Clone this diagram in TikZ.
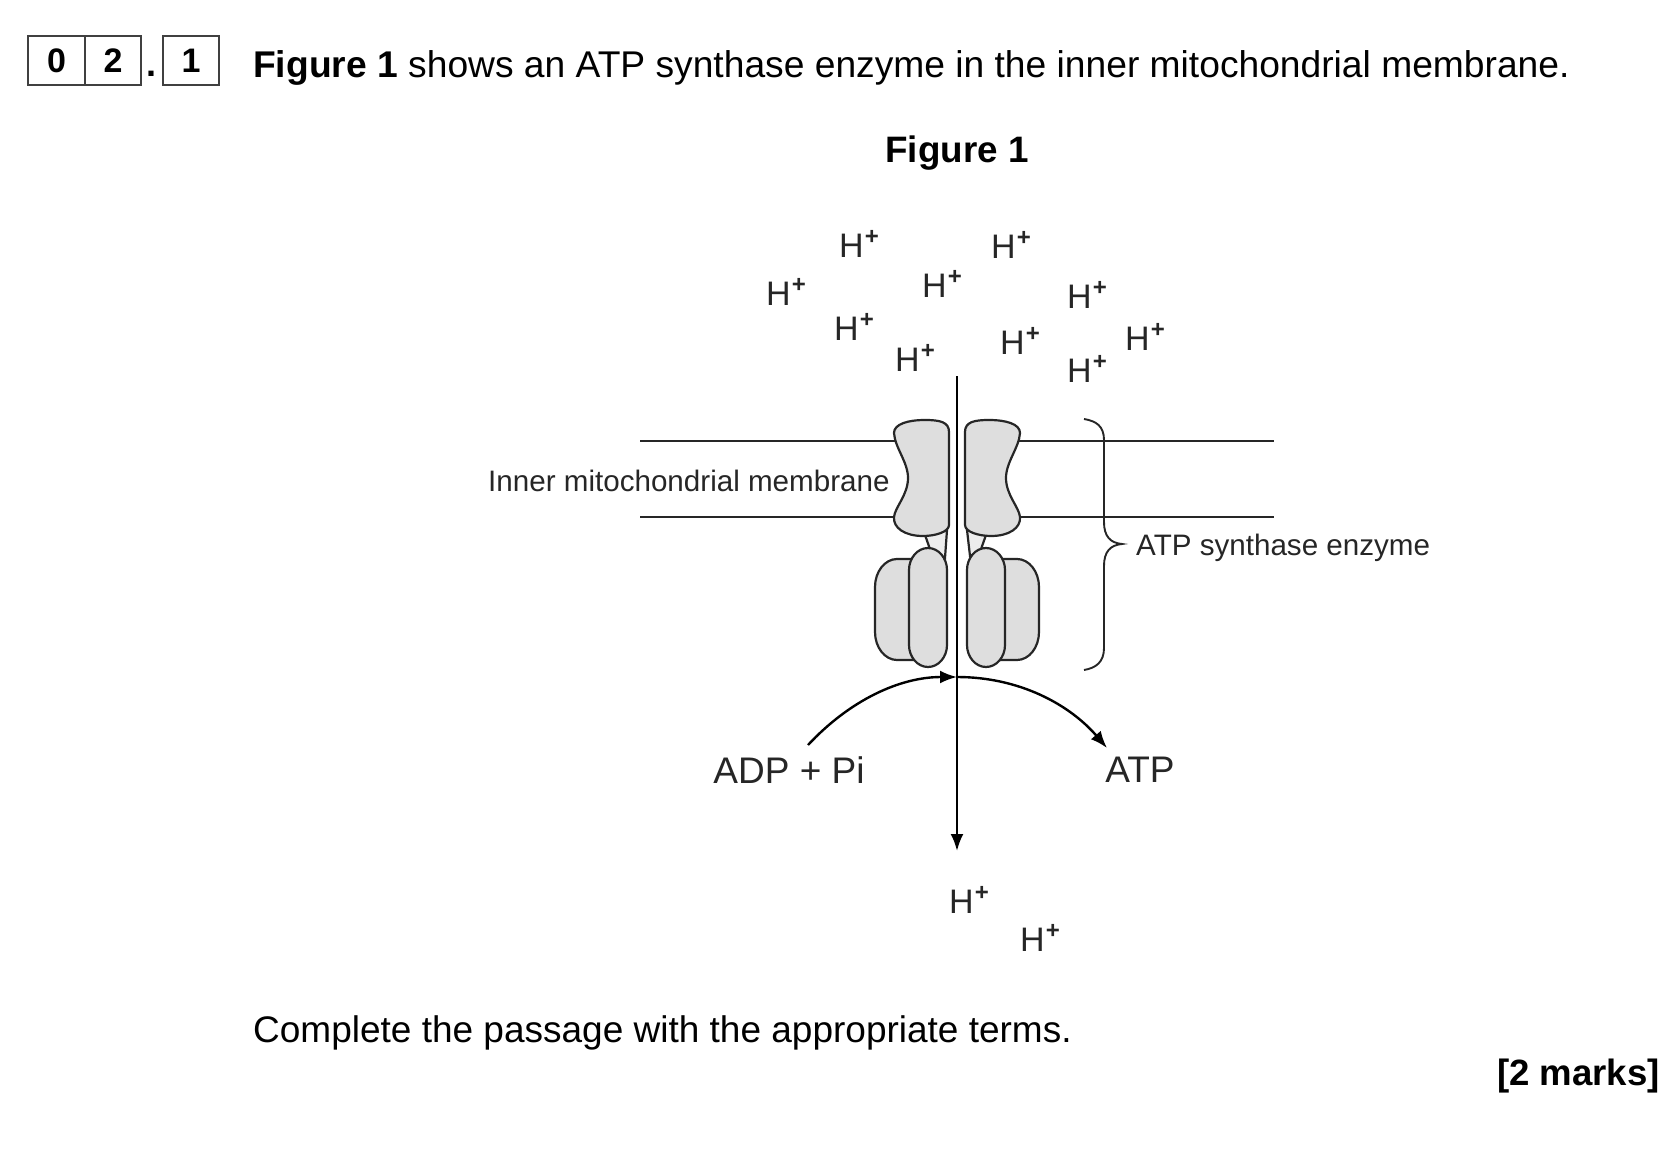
\documentclass[tikz,border=0pt]{standalone}
\usepackage{fontspec}
\setmainfont{Liberation Sans}
\usetikzlibrary{arrows.meta}
\newcommand{\fs}[1]{\fontsize{#1}{#1}\selectfont}
\newcommand{\Hp}{H\kern0.04em\raisebox{0.36em}{\fs{24}\bfseries+}}
\tikzset{
  ln/.style={draw=black!85,line width=1.9pt},
  prot/.style={draw=black!85,line width=2.2pt,fill=black!13},
  arr/.style={draw=black,line width=2.4pt,-{Latex[length=17pt,width=13pt]}},
  hion/.style={font=\fs{34},inner sep=0pt,text=black!85},
  dlabel/.style={font=\fs{29.6},inner sep=0pt,text=black!85},
  rlabel/.style={font=\fs{37},inner sep=0pt,text=black!85},
  qtext/.style={font=\fs{37.2},inner sep=0pt,anchor=base west},
  numbox/.style={draw=black!75,line width=1.7pt,minimum width=56.5pt,minimum height=49pt,inner sep=0pt,font=\fs{34}\bfseries}
}
\begin{document}
\begin{tikzpicture}[x=1pt,y=-1pt]
\useasboundingbox (0,0) rectangle (1676,1166);
% question number boxes
\node[numbox] (b0) at (56.5,60.5) {\raisebox{-2pt}{0}};
\node[numbox] (b2) at (113,60.5) {\raisebox{-2pt}{2}};
\node[font=\fs{36}\bfseries,inner sep=0pt] (dot) at (151,74) {.};
\node[numbox] (b1) at (191,60.5) {\raisebox{-2pt}{1}};
% texts
\node[qtext] (q) at (253,78) {\textbf{Figure 1} shows an ATP synthase enzyme in the inner mitochondrial membrane.};
\node[font=\fs{36.8}\bfseries,inner sep=0pt] (fig) at (957,153) {Figure 1};
\node[qtext,font=\fs{37}] (c) at (253,1042) {Complete the passage with the appropriate terms.};
\node[font=\fs{36.6}\bfseries,inner sep=0pt,anchor=base east] (m) at (1660,1085) {[2 marks]};
% membrane
\coordinate (ml1) at (640,441); \coordinate (ml2) at (895,441);
\coordinate (ml3) at (640,517); \coordinate (ml4) at (895,517);
\coordinate (mr1) at (1019,441); \coordinate (mr2) at (1274,441);
\coordinate (mr3) at (1019,517); \coordinate (mr4) at (1274,517);
\draw[ln] (ml1) -- (ml2);
\draw[ln] (ml3) -- (ml4);
\draw[ln] (mr1) -- (mr2);
\draw[ln] (mr3) -- (mr4);
% stalk
\draw[prot,fill=black!7] (925,535) -- (931,552) -- (945,558) -- (947,530) -- cycle;
\draw[prot,fill=black!7] (986,535) -- (980,552) -- (970,556) -- (967,530) -- cycle;
% F0 blobs
\draw[prot] (894,433) .. controls (894,424) and (908,420) .. (925,420)
  .. controls (940,420) and (949,422) .. (949,432) -- (949,525)
  .. controls (949,532) and (935,536) .. (923,536)
  .. controls (905,536) and (893,528) .. (894,517)
  .. controls (895,507) and (908,495) .. (908,478)
  .. controls (908,462) and (895,448) .. (894,433) -- cycle;
\draw[prot] (1020,433) .. controls (1020,424) and (1006,420) .. (989,420)
  .. controls (974,420) and (965,422) .. (965,432) -- (965,525)
  .. controls (965,532) and (979,536) .. (991,536)
  .. controls (1009,536) and (1021,528) .. (1020,517)
  .. controls (1019,507) and (1006,495) .. (1006,478)
  .. controls (1006,462) and (1019,448) .. (1020,433) -- cycle;
% F1 lobes
\draw[prot] (875,587) .. controls (875,571.6) and (884.9,559) .. (897,559) -- (915,559) -- (915,660) -- (897,660)
  .. controls (884.9,660) and (875,647.4) .. (875,632) -- cycle;
\draw[prot] (909,570) .. controls (909,558) and (917.5,548) .. (928,548)
  .. controls (938.5,548) and (947,558) .. (947,570) -- (947,645)
  .. controls (947,657) and (938.5,667) .. (928,667)
  .. controls (917.5,667) and (909,657) .. (909,645) -- cycle;
\draw[prot] (1039,587) .. controls (1039,571.6) and (1029.1,559) .. (1017,559) -- (999,559) -- (999,660) -- (1017,660)
  .. controls (1029.1,660) and (1039,647.4) .. (1039,632) -- cycle;
\draw[prot] (967,570) .. controls (967,558) and (975.5,548) .. (986,548)
  .. controls (996.5,548) and (1005,558) .. (1005,570) -- (1005,645)
  .. controls (1005,657) and (996.5,667) .. (986,667)
  .. controls (975.5,667) and (967,657) .. (967,645) -- cycle;
% brace
\coordinate (bt) at (1084,419); \coordinate (bb) at (1084,670); \coordinate (btip) at (1122,544);
\draw[ln] (bt) .. controls (1096,421) and (1104,426) .. (1104,440) -- (1104,522)
  .. controls (1104,536) and (1110,543) .. (btip)
  .. controls (1110,545) and (1104,552) .. (1104,566) -- (1104,648)
  .. controls (1104,662) and (1096,668) .. (bb);
% labels
\node[dlabel,anchor=west] (iml) at (488,481) {Inner mitochondrial membrane};
\node[dlabel,anchor=west] (ase) at (1136,548) {ATP synthase enzyme};
\node[rlabel] (adp) at (789,770) {ADP + Pi};
\node[rlabel] (atp) at (1140,770) {ATP};
% H+
\node[hion] (h1) at (859,244) {\Hp};
\node[hion] (h2) at (1011,245) {\Hp};
\node[hion] (h3) at (786,292) {\Hp};
\node[hion] (h4) at (942,284) {\Hp};
\node[hion] (h5) at (1087,295) {\Hp};
\node[hion] (h6) at (854,327) {\Hp};
\node[hion] (h7) at (915,358) {\Hp};
\node[hion] (h8) at (1020,341) {\Hp};
\node[hion] (h9) at (1145,337) {\Hp};
\node[hion] (h10) at (1087,369) {\Hp};
\node[hion] (h11) at (969,900) {\Hp};
\node[hion] (h12) at (1040,938) {\Hp};
% arrows
\coordinate (top) at (957,376); \coordinate (bot) at (957,851);
\coordinate (apex) at (957,677);
\coordinate (st) at (808,745); \coordinate (en) at (1107,748);
\draw[arr] (top) -- (bot);
\draw[arr] (st) .. controls (850,700) and (900,677) .. (apex);
\draw[arr] (apex) .. controls (1020,677) and (1070,705) .. (en);
\end{tikzpicture}
\end{document}
